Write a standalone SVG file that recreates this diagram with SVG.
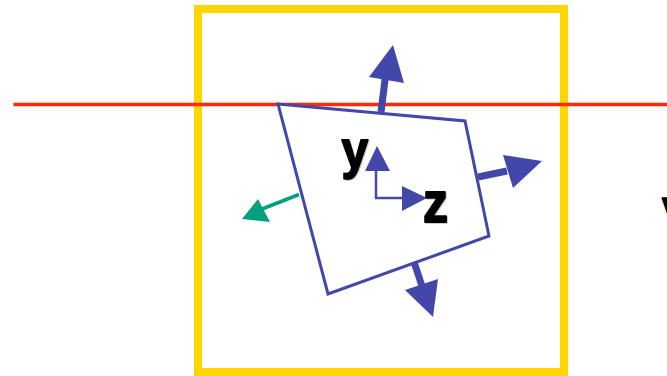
<svg xmlns="http://www.w3.org/2000/svg" width="667" height="376" viewBox="0 0 667 376">
<style>
.blue{fill:#4447AA}
.bline{stroke:#4447AA;fill:none}
.lbl{font-family:"Liberation Sans",Arial,sans-serif;font-weight:bold;fill:#000;stroke:#000;stroke-width:1.6;stroke-linejoin:round}
.sh{fill:#ccc;stroke:#ccc}
</style>
<rect width="667" height="376" fill="#fff"/>
<g id="frame"><rect x="198" y="9" width="366" height="363" fill="none" stroke="#FFD600" stroke-width="8"/></g>
<g id="horizon"><line x1="13.5" y1="104.5" x2="667" y2="104.5" stroke="#FF2A00" stroke-width="3.5"/></g>
<g id="plane"><polygon points="278,104 465,121 489,236 328,294" fill="#fff" stroke="#4447AA" stroke-width="3"/></g>
<g id="connectors">
<line class="bline" x1="381" y1="112" x2="385.5" y2="76" stroke-width="7"/>
<polygon class="blue" points="369,77 404,83 393,45"/>
<line class="bline" x1="478" y1="177" x2="507" y2="171" stroke-width="7"/>
<polygon class="blue" points="503,155 513,188 542,161"/>
<line class="bline" x1="414" y1="262" x2="422" y2="286" stroke-width="7"/>
<polygon class="blue" points="405,290 438,279 433,317"/>
<line x1="299" y1="194.5" x2="262" y2="209" stroke="#00A07E" stroke-width="3.5"/>
<polygon fill="#00A07E" points="258,199 270,222 242,219"/>
<polyline class="bline" points="376,168 376,198 403,198" stroke-width="2.5"/>
<polygon class="blue" points="365,171 390,171 377,146"/>
<polygon class="blue" points="402,186 402,211 427,198"/>
</g>
<g id="labels">
<text class="lbl sh" transform="translate(342.5,169) scale(1,1.12)" font-size="48">y</text>
<text class="lbl" transform="translate(341.5,168) scale(1,1.12)" font-size="48">y</text>
<text class="lbl sh" transform="translate(424,223) scale(1,1.14)" font-size="50">z</text>
<text class="lbl" transform="translate(423,222) scale(1,1.14)" font-size="50">z</text>
<text class="lbl" x="662" y="224" font-size="36">V</text>
</g>
</svg>
